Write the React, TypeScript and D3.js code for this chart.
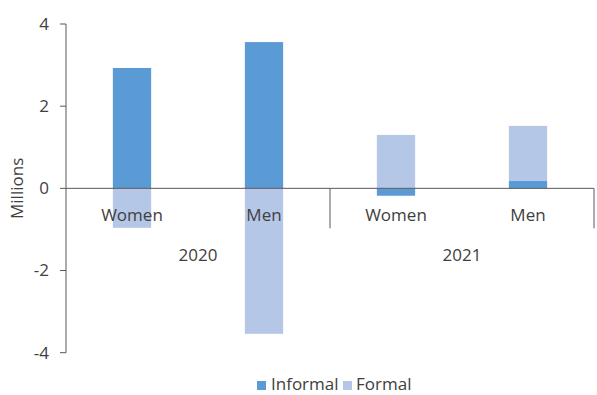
import * as d3 from "d3";

const years = ["2020", "2021"];
const genders = ["Women", "Men"];
const informal = [2.93, 3.56, -0.18, 0.18];
const formal = [-0.96, -3.54, 1.3, 1.34];
const yTicks = [-4, -2, 0, 2, 4];
const seriesNames = ["Informal", "Formal"];
const colors = ["#5b9bd5", "#b4c7e7"];

const FONT = "'Open Sans', 'Segoe UI', sans-serif";

export default function App() {
  const width = 597;
  const height = 395;
  const margin = { top: 24, right: 3, bottom: 42, left: 66 };

  const rows = years.flatMap((yr, i) =>
    genders.map((g, j) => ({
      key: `${yr}-${g}`,
      year: yr,
      gender: g,
      Informal: informal[i * 2 + j],
      Formal: formal[i * 2 + j],
    }))
  );

  const x = d3
    .scaleBand()
    .domain(rows.map((d) => d.key))
    .range([margin.left, width - margin.right])
    .paddingInner(0)
    .paddingOuter(0);

  const y = d3
    .scaleLinear()
    .domain([-4, 4])
    .range([height - 42.3, margin.top]);

  const stack = d3
    .stack<any>()
    .keys(seriesNames)
    .offset(d3.stackOffsetDiverging);
  const layers = stack(rows);

  const barW = x.bandwidth() * 0.29;
  const y0 = y(0);
  const yearW = x.bandwidth() * 2;

  return (
    <svg width={width} height={height} style={{ position: "absolute", left: 0, top: 0 }}>
      <rect width={width} height={height} fill="#fff" />
      {/* bars */}
      {layers.map((layer, si) => (
        <g key={seriesNames[si]} fill={colors[si]}>
          {layer.map((d, i) => {
            const k = rows[i].key;
            return (
              <rect
                key={k}
                x={(x(k) ?? 0) + x.bandwidth() / 2 - barW / 2}
                y={y(Math.max(d[0], d[1]))}
                width={barW}
                height={Math.abs(y(d[0]) - y(d[1]))}
              />
            );
          })}
        </g>
      ))}
      {/* y axis */}
      <line x1={margin.left} x2={margin.left} y1={y(4)} y2={y(-4)} stroke="#595959" strokeWidth={1} />
      {yTicks.map((t) => (
        <g key={t}>
          <line x1={margin.left - 6} x2={margin.left} y1={y(t)} y2={y(t)} stroke="#595959" />
          <text
            x={49}
            y={y(t)}
            dy="0.35em"
            textAnchor="end"
            fontFamily={FONT}
            fontSize={17}
            fill="#404040"
          >
            {t < 0 ? `-${Math.abs(t)}` : t}
          </text>
        </g>
      ))}
      <text
        transform={`translate(23,${y0}) rotate(-90)`}
        textAnchor="middle"
        fontFamily={FONT}
        fontSize={17}
        fill="#404040"
      >
        Millions
      </text>
      {/* zero line / category axis */}
      <line x1={margin.left} x2={width - margin.right} y1={y0} y2={y0} stroke="#595959" />
      {[1, 2].map((i) => {
        const xx = margin.left + i * yearW;
        return <line key={i} x1={xx} x2={xx} y1={y0} y2={y0 + 40} stroke="#595959" />;
      })}
      {rows.map((d) => (
        <text
          key={d.key}
          x={(x(d.key) ?? 0) + x.bandwidth() / 2}
          y={221}
          textAnchor="middle"
          fontFamily={FONT}
          fontSize={17}
          fill="#404040"
        >
          {d.gender}
        </text>
      ))}
      {years.map((yr, i) => (
        <text
          key={yr}
          x={margin.left + i * yearW + yearW / 2}
          y={261}
          textAnchor="middle"
          fontFamily={FONT}
          fontSize={17}
          fill="#404040"
        >
          {yr}
        </text>
      ))}
      {/* legend */}
      <g fontFamily={FONT} fontSize={17} fill="#404040">
        <rect x={257} y={381} width={9} height={9} fill={colors[0]} />
        <text x={271} y={390}>Informal</text>
        <rect x={343} y={381} width={9} height={9} fill={colors[1]} />
        <text x={356} y={390}>Formal</text>
      </g>
    </svg>
  );
}
